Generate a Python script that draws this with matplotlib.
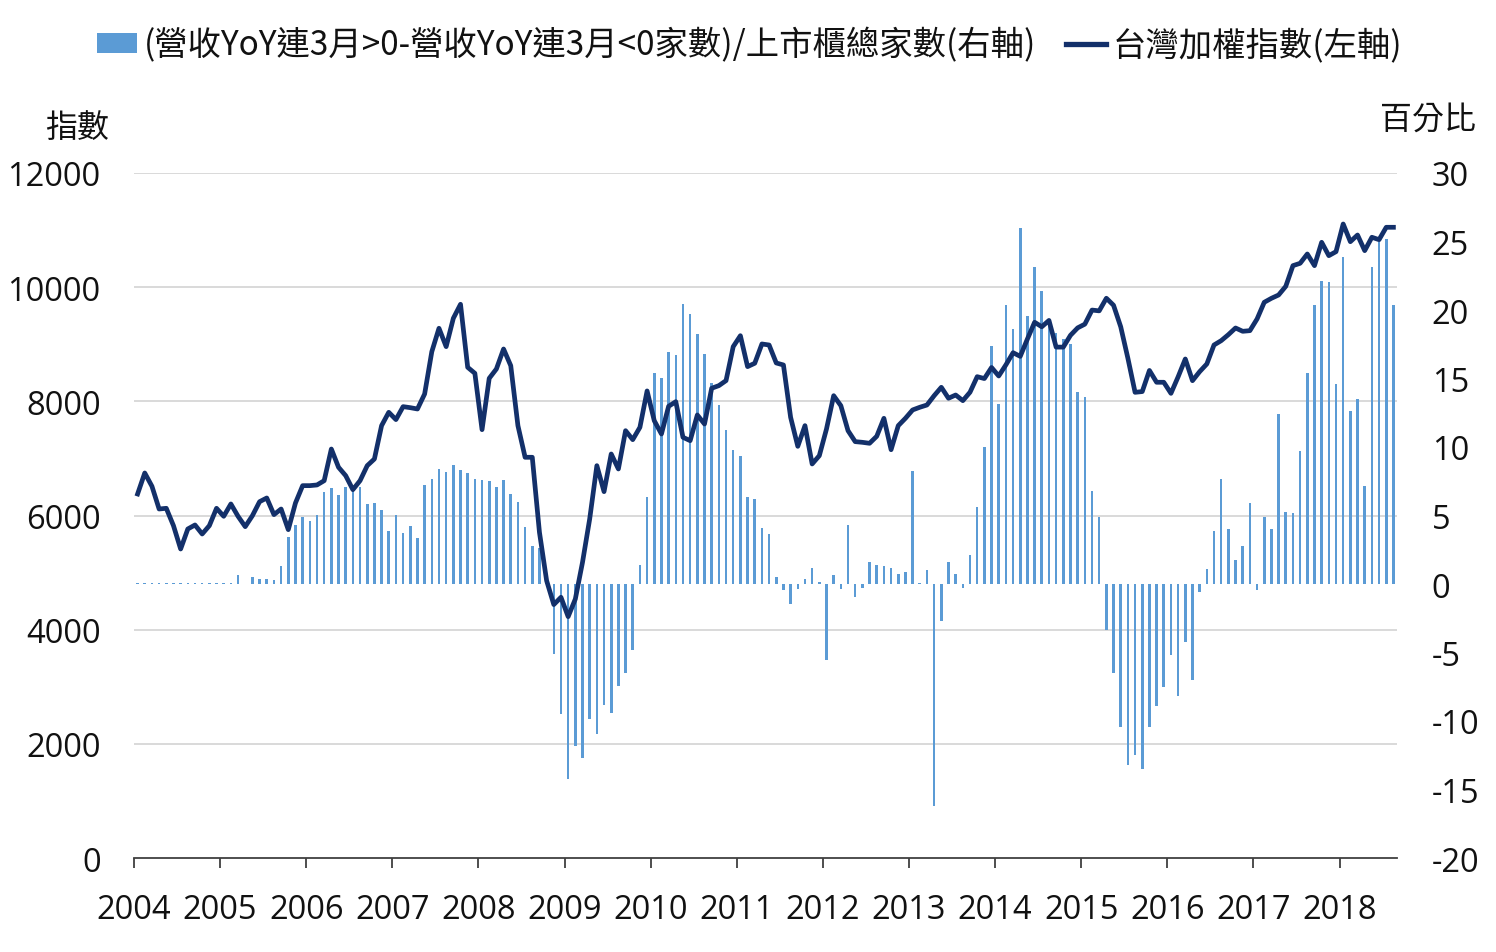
import matplotlib
matplotlib.use("Agg")
import matplotlib.pyplot as plt
from matplotlib.patches import Patch
from matplotlib.lines import Line2D
import numpy as np

# ---------------- data ----------------
years = [str(y) for y in range(2004, 2019)]

ratio = [
    0.1, 0.1, 0.1, 0.1, 0.1, 0.1, 0.1, 0.1, 0.1, 0.1, 0.1, 0.1,          # 2004
    0.1, 0.1, 0.66, 0.0, 0.53, 0.39, 0.39, 0.31, 1.34, 3.45, 4.33, 4.91,  # 2005
    4.62, 5.06, 6.74, 7.03, 6.52, 7.1, 7.1, 7.1, 5.85, 5.93, 5.42, 3.89,  # 2006
    5.06, 3.74, 4.25, 3.38, 7.25, 7.69, 8.42, 8.2, 8.71, 8.35, 8.13, 7.69,  # 2007
    7.62, 7.54, 7.1, 7.62, 6.59, 6.0, 4.18, 2.79, 2.64, 0.2, -5.09, -9.47,  # 2008
    -14.26, -11.85, -12.68, -9.83, -10.98, -8.86, -9.39, -7.47, -6.47, -4.8, 1.41, 6.37,  # 2009
    15.42, 15.06, 16.96, 16.74, 20.47, 19.74, 18.28, 16.82, 14.7, 13.09, 11.26, 9.8,  # 2010
    9.36, 6.37, 6.23, 4.11, 3.67, 0.53, -0.42, -1.44, -0.34, 0.39, 1.19, 0.17,  # 2011
    -5.53, 0.68, -0.34, 4.33, -0.93, -0.27, 1.63, 1.41, 1.34, 1.19, 0.75, 0.9,  # 2012
    8.27, 0.1, 1.04, -16.17, -2.68, 1.63, 0.75, -0.27, 2.14, 5.64, 10.01, 17.39,  # 2013
    13.17, 20.36, 18.63, 26.0, 19.58, 23.15, 21.39, 19.0, 18.34, 17.9, 17.54, 14.0,  # 2014
    13.66, 6.79, 4.87, -3.37, -6.47, -10.45, -13.24, -12.48, -13.51, -10.45, -8.91, -7.5,  # 2015
    -5.18, -8.18, -4.23, -7.03, -0.58, 1.12, 3.84, 7.69, 4.04, 1.77, 2.8, 5.93,  # 2016
    -0.46, 4.91, 4.04, 12.43, 5.28, 5.2, 9.73, 15.42, 20.39, 22.14, 22.07, 14.6,  # 2017
    23.9, 12.65, 13.52, 7.17, 23.17, 25.0, 25.2, 20.39,  # 2018
]

taiex = [
    6377, 6745, 6512, 6114, 6126, 5822, 5413, 5764, 5834, 5676, 5822, 6126,  # 2004
    5986, 6202, 5986, 5805, 5997, 6242, 6307, 6015, 6114, 5752, 6219, 6523,  # 2005
    6523, 6535, 6610, 7165, 6845, 6698, 6453, 6610, 6873, 6990, 7574, 7808,  # 2006
    7680, 7907, 7889, 7866, 8129, 8870, 9280, 8958, 9455, 9700, 8596, 8491,  # 2007
    7504, 8403, 8567, 8917, 8625, 7574, 7020, 7020, 5706, 4858, 4440, 4567,  # 2008
    4228, 4537, 5180, 5939, 6873, 6418, 7078, 6815, 7486, 7329, 7545, 8182,  # 2009
    7661, 7428, 7913, 7994, 7370, 7311, 7761, 7603, 8229, 8275, 8363, 8958,  # 2010
    9150, 8608, 8667, 9005, 8987, 8672, 8637, 7720, 7212, 7574, 6903, 7048,  # 2011
    7516, 8099, 7924, 7486, 7294, 7282, 7265, 7388, 7703, 7153, 7574, 7703,  # 2012
    7849, 7896, 7936, 8099, 8246, 8054, 8111, 8012, 8160, 8432, 8399, 8593,  # 2013
    8444, 8639, 8852, 8788, 9093, 9385, 9306, 9417, 8950, 8950, 9157, 9287,  # 2014
    9352, 9599, 9585, 9806, 9683, 9306, 8754, 8158, 8171, 8541, 8334, 8334,  # 2015
    8140, 8430, 8742, 8362, 8520, 8655, 8987, 9063, 9168, 9285, 9227, 9238,  # 2016
    9443, 9735, 9805, 9863, 10015, 10377, 10418, 10581, 10377, 10786, 10552, 10622,  # 2017
    11107, 10797, 10914, 10640, 10874, 10832, 11049, 11049,  # 2018
]

left_ticks = [0, 2000, 4000, 6000, 8000, 10000, 12000]
right_ticks = [-20, -15, -10, -5, 0, 5, 10, 15, 20, 25, 30]

label_bar = "(營收YoY連3月>0-營收YoY連3月<0家數)/上市櫃總家數(右軸)"
label_line = "台灣加權指數(左軸)"
left_title = "指數"
right_title = "百分比"

# ---------------- style ----------------
CJK = ["Noto Sans CJK TC", "DejaVu Sans"]
NUM = ["Open Sans", "DejaVu Sans"]
bar_color = "#5b9bd5"
line_color = "#13306a"
grid_color = "#d9d9d9"
TICK_FS = 23.5

fig = plt.figure(figsize=(14.96, 9.53), dpi=100)
ax = fig.add_axes([134 / 1496, 1 - 859 / 953, (1397 - 134) / 1496, (859 - 174) / 953])
ax2 = ax.twinx()

n = len(taiex)
x = np.arange(n)

# bars on right axis
ax2.bar(np.arange(len(ratio)), ratio, width=0.36, color=bar_color, linewidth=0, zorder=2)
ax2.set_ylim(-20, 30)
ax2.set_yticks(right_ticks)
ax2.set_yticklabels([str(t) for t in right_ticks], fontfamily=NUM, fontsize=TICK_FS)
ax2.tick_params(axis="y", length=0, pad=25, colors="#111111")

# line on left axis (drawn above bars)
ax.set_zorder(ax2.get_zorder() + 1)
ax.patch.set_visible(False)
ax.plot(x, taiex, color=line_color, linewidth=3.4, solid_joinstyle="round", zorder=3)
ax.set_ylim(0, 12000)
ax.set_yticks(left_ticks)
ax.set_yticklabels([str(t) for t in left_ticks], fontfamily=NUM, fontsize=TICK_FS)
ax.tick_params(axis="y", length=0, pad=24, colors="#111111")

# grid drawn on ax2 (behind bars)
for t in left_ticks[1:]:
    ax2.axhline(-20 + t / 12000 * 50, color=grid_color, linewidth=1.4, zorder=0)

ax.set_xlim(-0.5, n - 0.5)
ax2.set_xlim(-0.5, n - 0.5)
ax.set_xticks([-0.5 + 12 * k for k in range(len(years))])
ax.set_xticklabels(years, fontfamily=NUM, fontsize=TICK_FS)
ax.tick_params(axis="x", direction="out", length=7, width=1.3, color="#404040", pad=18, labelcolor="#111111")
for a in (ax, ax2):
    for s in ("left", "right", "top"):
        a.spines[s].set_visible(False)
ax.spines["bottom"].set_visible(True)
ax.spines["bottom"].set_color("#404040")
ax.spines["bottom"].set_linewidth(1.3)
ax2.spines["bottom"].set_visible(False)

# axis titles
fig.text(77 / 1496, 1 - 128 / 953, left_title, fontfamily=CJK, fontsize=23,
         ha="center", va="center", color="#111111")
fig.text(1428 / 1496, 1 - 120 / 953, right_title, fontfamily=CJK, fontsize=23,
         ha="center", va="center", color="#111111")

# legend
handles = [Patch(facecolor=bar_color, edgecolor="none"),
           Line2D([0], [0], color=line_color, linewidth=3.8)]
leg = fig.legend(handles, [label_bar, label_line], loc="center",
                 bbox_to_anchor=(750 / 1496, 1 - 46 / 953), ncol=2, frameon=False,
                 prop={"family": CJK, "size": 24}, handlelength=1.2, handleheight=0.55,
                 handletextpad=0.2, columnspacing=0.9, borderaxespad=0)
for t in leg.get_texts():
    t.set_color("#111111")

fig.savefig("out.png", dpi=100)
